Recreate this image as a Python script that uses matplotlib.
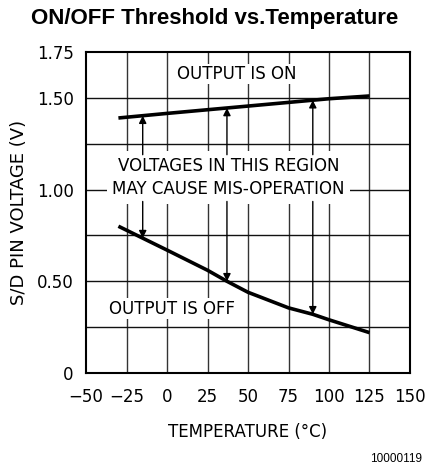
import numpy as np
import matplotlib
matplotlib.use("Agg")
import matplotlib.pyplot as plt

# data
temp_on = [-30, 0, 25, 50, 75, 100, 125]
v_on = [1.39, 1.415, 1.435, 1.455, 1.475, 1.495, 1.51]

temp_off = [-30, -15, 0, 25, 37, 50, 75, 90, 100, 125]
v_off = [0.80, 0.735, 0.67, 0.56, 0.50, 0.44, 0.355, 0.32, 0.29, 0.22]

arrow_temps = [-15, 37, 90]

xticks = [-50, -25, 0, 25, 50, 75, 100, 125, 150]
xtick_labels = ["\u221250", "\u221225", "0", "25", "50", "75", "100", "125", "150"]
yticks = [0, 0.50, 1.00, 1.50, 1.75]
ytick_labels = ["0", "0.50", "1.00", "1.50", "1.75"]

plt.rcParams['font.family'] = ['DejaVu Sans']

fig = plt.figure(figsize=(4.29, 4.68), dpi=100)
ax = fig.add_axes([0.2005, 0.203, 0.7552, 0.686])

ax.set_xlim(-50, 150)
ax.set_ylim(0, 1.75)

# grid
for t in np.arange(-25, 150, 25):
    ax.axvline(t, color="#333333", lw=1.0, zorder=1)
for v in np.arange(0.25, 1.75, 0.25):
    ax.axhline(v, color="#111111", lw=1.0, zorder=1)

ax.plot(temp_on, v_on, color="black", lw=2.6, zorder=4, solid_capstyle="butt")
ax.plot(temp_off, v_off, color="black", lw=2.6, zorder=4, solid_capstyle="butt")

txt = dict(fontsize=12, ha="center", va="center", zorder=3)
ax.text(43, 1.63, "OUTPUT IS ON", bbox=dict(fc="white", ec="none", pad=1), **txt)
ax.text(38, 1.065, "VOLTAGES IN THIS REGION\nMAY CAUSE MIS-OPERATION", linespacing=1.4,
        bbox=dict(fc="white", ec="none", pad=4), **txt)
ax.text(3, 0.35, "OUTPUT IS OFF", bbox=dict(fc="white", ec="none", pad=1), **txt)

for t in arrow_temps:
    top = np.interp(t, temp_on, v_on)
    bot = np.interp(t, temp_off, v_off)
    ax.annotate("", xy=(t, top), xytext=(t, 1.19),
                arrowprops=dict(arrowstyle="-|>", color="black", lw=1.0,
                                mutation_scale=11, shrinkA=0, shrinkB=0), zorder=5)
    ax.annotate("", xy=(t, bot), xytext=(t, 0.935),
                arrowprops=dict(arrowstyle="-|>", color="black", lw=1.0,
                                mutation_scale=11, shrinkA=0, shrinkB=0), zorder=5)

ax.set_xticks(xticks)
ax.set_xticklabels(xtick_labels)
ax.set_yticks(yticks)
ax.set_yticklabels(ytick_labels)
ax.tick_params(length=0, labelsize=12)
ax.tick_params(axis="x", pad=11)
ax.tick_params(axis="y", pad=9)

for s in ax.spines.values():
    s.set_linewidth(1.5)

ax.set_xlabel("TEMPERATURE (\u00b0C)", fontsize=12, labelpad=12)
ax.set_ylabel("S/D PIN VOLTAGE (V)", fontsize=13, labelpad=6)

fig.text(0.5, 0.961, "ON/OFF Threshold vs.Temperature", ha="center", va="center",
         fontsize=16, fontweight="bold", family=["Liberation Sans", "DejaVu Sans"])
fig.text(0.984, 0.019, "10000119", ha="right", va="center", fontsize=8.5,
         family=["Liberation Sans", "DejaVu Sans"])

fig.savefig("out.png", dpi=100)
